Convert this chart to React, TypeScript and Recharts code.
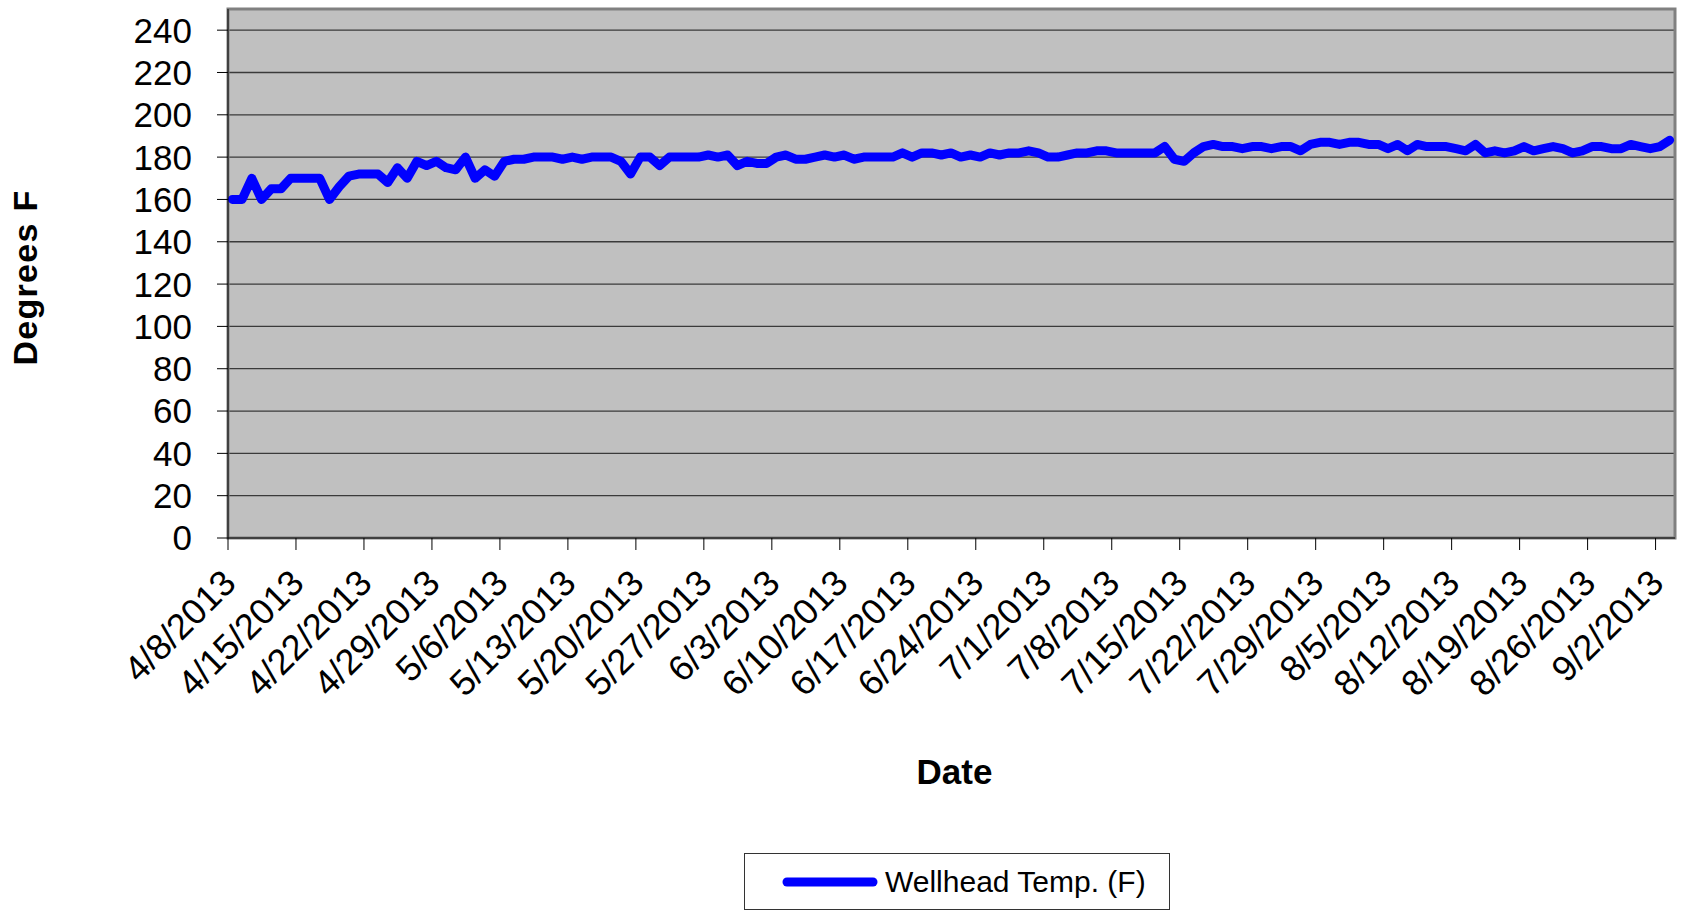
import React from 'react';
import { LineChart, Line, XAxis, YAxis, CartesianGrid, ReferenceArea, Label } from 'recharts';

const FONT = '"Liberation Sans", Arial, sans-serif';

// Daily wellhead temperature readings starting 4/8/2013 (one per day)
const READING_DAY_FRACTION = 0.45; // readings taken late morning
const TEMPS: number[] = [
  160, 160, 170, 160, 165, 165, 170, 170, 170, 170,
  160, 166, 171, 172, 172, 172, 168, 175, 170, 178,
  176, 178, 175, 174, 180, 170, 174, 171, 178, 179,
  179, 180, 180, 180, 179, 180, 179, 180, 180, 180,
  178, 172, 180, 180, 176, 180, 180, 180, 180, 181,
  180, 181, 176, 178, 177, 177, 180, 181, 179, 179,
  180, 181, 180, 181, 179, 180, 180, 180, 180, 182,
  180, 182, 182, 181, 182, 180, 181, 180, 182, 181,
  182, 182, 183, 182, 180, 180, 181, 182, 182, 183,
  183, 182, 182, 182, 182, 182, 185, 179, 178, 182,
  185, 186, 185, 185, 184, 185, 185, 184, 185, 185,
  183, 186, 187, 187, 186, 187, 187, 186, 186, 184,
  186, 183, 186, 185, 185, 185, 184, 183, 186, 182,
  183, 182, 183, 185, 183, 184, 185, 184, 182, 183,
  185, 185, 184, 184, 186, 185, 184, 185, 188,
];

const X_TICK_LABELS: string[] = [
  '4/8/2013', '4/15/2013', '4/22/2013', '4/29/2013', '5/6/2013', '5/13/2013',
  '5/20/2013', '5/27/2013', '6/3/2013', '6/10/2013', '6/17/2013', '6/24/2013',
  '7/1/2013', '7/8/2013', '7/15/2013', '7/22/2013', '7/29/2013', '8/5/2013',
  '8/12/2013', '8/19/2013', '8/26/2013', '9/2/2013',
];
const X_DOMAIN: [number, number] = [0, 149];
const Y_TICKS: number[] = [0, 20, 40, 60, 80, 100, 120, 140, 160, 180, 200, 220, 240];
const Y_DOMAIN: [number, number] = [0, 250];
const SERIES_NAME = 'Wellhead Temp. (F)';
const X_TITLE = 'Date';
const Y_TITLE = 'Degrees F';

const data = TEMPS.map((t, i) => ({ x: i + READING_DAY_FRACTION, temp: t }));
const xTicks = X_TICK_LABELS.map((_, i) => i * 7);

const DateTick = (props: any) => {
  const { x, y, payload } = props;
  const idx = Math.round(payload.value / 7);
  const label = X_TICK_LABELS[idx] ?? '';
  const ax = x + 10;
  const ay = y + 33;
  return (
    <text
      x={ax}
      y={ay}
      transform={`rotate(-45, ${ax}, ${ay})`}
      textAnchor="end"
      fontSize={36}
      fontFamily={FONT}
      fill="#000"
    >
      {label}
    </text>
  );
};

const YTitle = (props: any) => {
  const vb = props.viewBox || {};
  const cx = 37;
  const cy = vb.y + vb.height / 2 + 4;
  return (
    <text
      x={cx}
      y={cy}
      transform={`rotate(-90, ${cx}, ${cy})`}
      textAnchor="middle"
      fontSize={34}
      fontWeight="bold"
      letterSpacing={1.3}
      fontFamily={FONT}
      fill="#000"
    >
      {Y_TITLE}
    </text>
  );
};

const XTitle = (props: any) => {
  const vb = props.viewBox || {};
  return (
    <text
      x={vb.x + vb.width / 2 + 3}
      y={vb.y + 246}
      textAnchor="middle"
      fontSize={35}
      fontWeight="bold"
      fontFamily={FONT}
      fill="#000"
    >
      {X_TITLE}
    </text>
  );
};

export default function App() {
  return (
    <div style={{ position: 'absolute', left: 0, top: 0, width: 1686, height: 911, background: '#fff', fontFamily: FONT }}>
      <LineChart
        width={1686}
        height={911}
        data={data}
        margin={{ top: 9, right: 11, bottom: 123, left: 0 }}
      >
        <CartesianGrid
          vertical={false}
          horizontal={true}
          fill="#C0C0C0"
          fillOpacity={1}
          stroke="#3a3a3a"
          strokeWidth={1.3}
        />
        <ReferenceArea
          x1={X_DOMAIN[0]}
          x2={X_DOMAIN[1]}
          y1={Y_DOMAIN[0]}
          y2={Y_DOMAIN[1]}
          fill="none"
          stroke="#808080"
          strokeWidth={3}
          ifOverflow="extendDomain"
        />
        <XAxis
          type="number"
          dataKey="x"
          domain={X_DOMAIN}
          ticks={xTicks}
          interval={0}
          allowDataOverflow
          height={250}
          tickSize={12}
          tickMargin={2}
          axisLine={{ stroke: '#000', strokeWidth: 1 }}
          tickLine={{ stroke: '#000', strokeWidth: 1 }}
          tick={<DateTick />}
        >
          <Label content={<XTitle />} />
        </XAxis>
        <YAxis
          type="number"
          domain={Y_DOMAIN}
          ticks={Y_TICKS}
          interval={0}
          allowDataOverflow
          width={228}
          tickSize={11}
          tickMargin={25}
          axisLine={{ stroke: '#000', strokeWidth: 1 }}
          tickLine={{ stroke: '#000', strokeWidth: 1 }}
          tick={{ fontSize: 35, fill: '#000', fontFamily: FONT }}
        >
          <Label content={<YTitle />} />
        </YAxis>
        <Line
          type="linear"
          dataKey="temp"
          name={SERIES_NAME}
          stroke="#0000FF"
          strokeWidth={9}
          strokeLinejoin="round"
          strokeLinecap="round"
          dot={false}
          activeDot={false}
          isAnimationActive={false}
        />
      </LineChart>
      <div
        style={{
          position: 'absolute',
          left: 744,
          top: 853,
          width: 426,
          height: 57,
          boxSizing: 'border-box',
          border: '1px solid #333',
          background: '#fff',
        }}
      >
        <svg width={426} height={57} style={{ position: 'absolute', left: -1, top: -1 }}>
          <line x1={43} y1={29} x2={129} y2={29} stroke="#0000FF" strokeWidth={9} strokeLinecap="round" />
          <text x={141} y={39} fontSize={30} fontFamily={FONT} fill="#000">
            {SERIES_NAME}
          </text>
        </svg>
      </div>
    </div>
  );
}
